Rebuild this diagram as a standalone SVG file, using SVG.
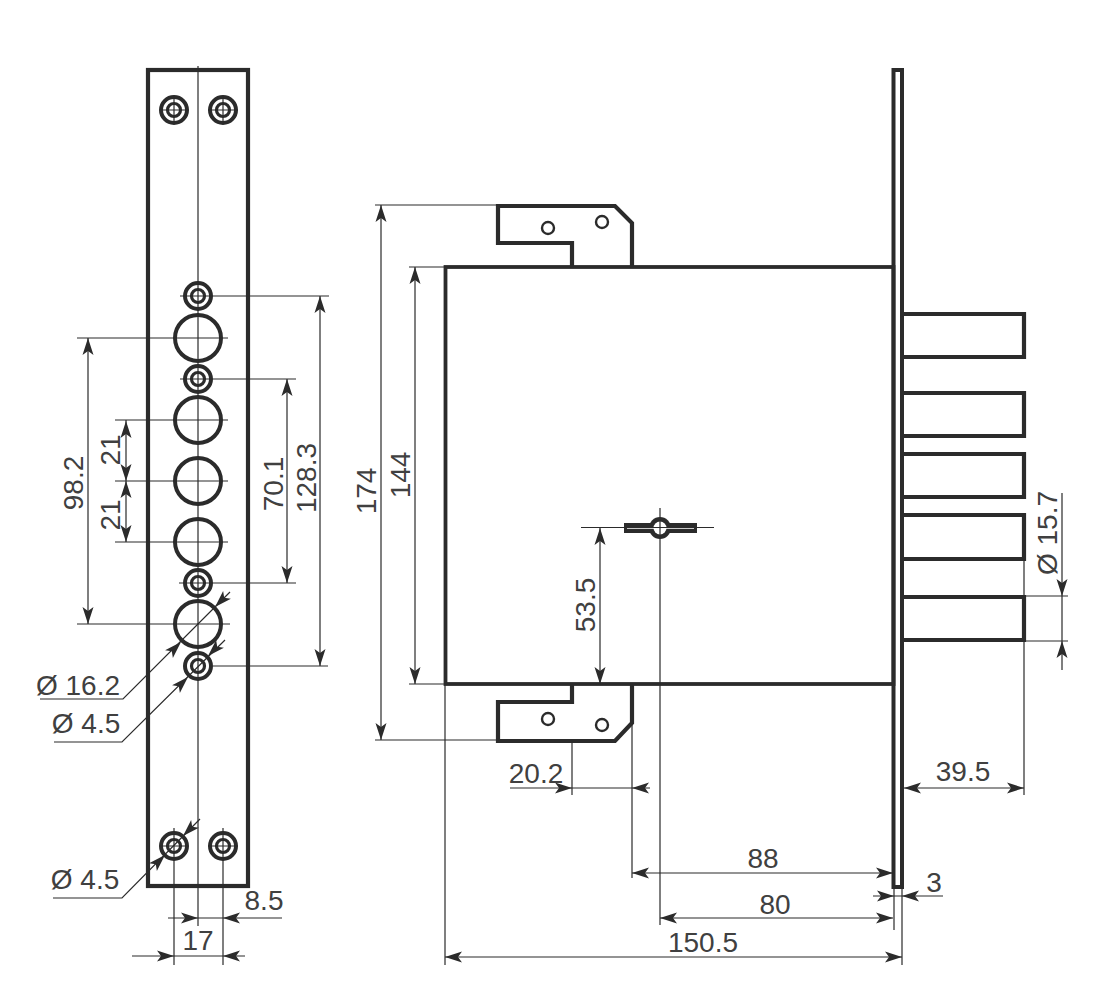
<svg xmlns="http://www.w3.org/2000/svg" xmlns:xlink="http://www.w3.org/1999/xlink" width="1094" height="999" viewBox="0 0 1094 999">
<style>
.o{fill:none;stroke:#2b2b2b;stroke-width:4.200;stroke-linejoin:miter}
.h{fill:#fff;stroke:#2b2b2b;stroke-width:2.400}
.c{fill:none;stroke:#2b2b2b;stroke-width:4}
.r{fill:none;stroke:#2b2b2b;stroke-width:3.200}
.t{fill:none;stroke:#2b2b2b;stroke-width:1.200}
.x{font-family:"Liberation Sans",Arial,sans-serif;font-size:28px;fill:#404040;text-anchor:middle}
.a{fill:#2b2b2b}
</style>
<defs>
<path id="a" class="a" d="M0,0L-17,-5.500L-13,0L-17,5.500Z"/>
<g id="s"><circle r="13" class="c"/><circle r="6.500" class="r"/></g>
</defs>
<rect width="1094" height="999" fill="#fff"/>

<g id="faceplate">
<rect class="o" x="148" y="70" width="100" height="816"/>
<circle class="c" cx="198" cy="338" r="23"/>
<circle class="c" cx="198" cy="420" r="23"/>
<circle class="c" cx="198" cy="481" r="23"/>
<circle class="c" cx="198" cy="542" r="23"/>
<circle class="c" cx="198" cy="624" r="23"/>
<use xlink:href="#s" x="174" y="110"/>
<use xlink:href="#s" x="223" y="110"/>
<use xlink:href="#s" x="198" y="296"/>
<use xlink:href="#s" x="198" y="379"/>
<use xlink:href="#s" x="198" y="583"/>
<use xlink:href="#s" x="198" y="666"/>
<use xlink:href="#s" x="174" y="846"/>
<use xlink:href="#s" x="223" y="846"/>
</g>

<g id="lock-body">
<path class="o" d="M572,267V243H498V206H615L632,223V267"/>
<circle class="h" cx="548" cy="228" r="6"/>
<circle class="h" cx="602" cy="222" r="6"/>
<path class="o" d="M572,684V702H498V741H615L632,723V684"/>
<circle class="h" cx="548" cy="719" r="6"/>
<circle class="h" cx="602" cy="725" r="6"/>
<rect class="o" x="445.500" y="267" width="448" height="417" style="stroke-width:3.800"/>
<rect class="o" x="893.500" y="70" width="8.500" height="817" style="stroke-width:4"/>
</g>

<g id="bolts">
<path class="o" d="M903,314H1024V357H903"/>
<path class="o" d="M903,393H1024V436H903"/>
<path class="o" d="M903,454H1024V497H903"/>
<path class="o" d="M903,515H1024V559H903"/>
<path class="o" d="M903,597H1024V640H903"/>
</g>

<g id="keyhole">
<rect x="624" y="523" width="73" height="10" fill="#2b2b2b"/>
<circle cx="660" cy="528" r="11" fill="#2b2b2b"/>
<circle cx="660" cy="528" r="6.500" fill="#fff"/>
<line x1="627" y1="528" x2="694" y2="528" stroke="#fff" stroke-width="1.600"/>
</g>

<g id="connectors" class="t">
<path d="M198,66V926M174,828V965M223,828V965M160,846H188M208,846H238M160,110H188M208,110H238M174,96V124M223,96V124"/>
<path d="M180,296H329M180,379H296M179,583H296M213,666H328"/>
<path d="M77,338H228M115,420H228M115,481H228M115,542H228M77,624H230"/>
<path d="M88,338V624M126,420V542M287,379V583M320,296V666"/>
<path d="M40,699H123L230,592M54,742H122L225,640M53,898H122L200,819"/>
<path d="M168,918H282M132,956H245"/>
<path d="M375,205H498M375,740H498M409,267H445M409,684H445M381,205V740M415,267V684"/>
<path d="M581,527.500H714M660,508V925M600,528V684"/>
<path d="M572,741V795M632,684V878M445,684V965M902,887V965M894,887V930M1024,559V596M1024,641V795"/>
<path d="M510,788H650M904,788H1024M632,873H893M660,918H893M445,957H902M873,896H943"/>
<path d="M1025,596H1068M1025,641H1068M1062,493V670"/>
</g>

<g id="arrowheads">
<use xlink:href="#a" transform="translate(88,338) rotate(-90)"/>
<use xlink:href="#a" transform="translate(88,624) rotate(90)"/>
<use xlink:href="#a" transform="translate(126,421) rotate(-90)"/>
<use xlink:href="#a" transform="translate(126,481) rotate(90)"/>
<use xlink:href="#a" transform="translate(126,481) rotate(-90)"/>
<use xlink:href="#a" transform="translate(126,542) rotate(90)"/>
<use xlink:href="#a" transform="translate(287,379) rotate(-90)"/>
<use xlink:href="#a" transform="translate(287,583) rotate(90)"/>
<use xlink:href="#a" transform="translate(320,296) rotate(-90)"/>
<use xlink:href="#a" transform="translate(320,666) rotate(90)"/>
<use xlink:href="#a" transform="translate(181,642) rotate(-45)"/>
<use xlink:href="#a" transform="translate(215,607) rotate(135)"/>
<use xlink:href="#a" transform="translate(188,677) rotate(-45)"/>
<use xlink:href="#a" transform="translate(208,656) rotate(135)"/>
<use xlink:href="#a" transform="translate(165,855) rotate(-45)"/>
<use xlink:href="#a" transform="translate(183,836) rotate(135)"/>
<use xlink:href="#a" transform="translate(198,918)"/>
<use xlink:href="#a" transform="translate(223,918) rotate(180)"/>
<use xlink:href="#a" transform="translate(174,956)"/>
<use xlink:href="#a" transform="translate(223,956) rotate(180)"/>
<use xlink:href="#a" transform="translate(381,205) rotate(-90)"/>
<use xlink:href="#a" transform="translate(381,740) rotate(90)"/>
<use xlink:href="#a" transform="translate(415,267) rotate(-90)"/>
<use xlink:href="#a" transform="translate(415,684) rotate(90)"/>
<use xlink:href="#a" transform="translate(600,528) rotate(-90)"/>
<use xlink:href="#a" transform="translate(600,684) rotate(90)"/>
<use xlink:href="#a" transform="translate(572,788)"/>
<use xlink:href="#a" transform="translate(632,788) rotate(180)"/>
<use xlink:href="#a" transform="translate(904,788) rotate(180)"/>
<use xlink:href="#a" transform="translate(1024,788)"/>
<use xlink:href="#a" transform="translate(632,873) rotate(180)"/>
<use xlink:href="#a" transform="translate(893,873)"/>
<use xlink:href="#a" transform="translate(660,918) rotate(180)"/>
<use xlink:href="#a" transform="translate(893,918)"/>
<use xlink:href="#a" transform="translate(445,957) rotate(180)"/>
<use xlink:href="#a" transform="translate(902,957)"/>
<use xlink:href="#a" transform="translate(894,896)"/>
<use xlink:href="#a" transform="translate(902,896) rotate(180)"/>
<use xlink:href="#a" transform="translate(1062,596) rotate(90)"/>
<use xlink:href="#a" transform="translate(1062,641) rotate(-90)"/>
</g>

<g id="labels">
<text class="x" x="78" y="695">Ø 16.2</text>
<text class="x" x="86" y="733">Ø 4.5</text>
<text class="x" x="85" y="889">Ø 4.5</text>
<text class="x" x="264" y="910">8.5</text>
<text class="x" x="198" y="950">17</text>
<text class="x" transform="translate(83,483) rotate(-90)">98.2</text>
<text class="x" transform="translate(120,450) rotate(-90)">21</text>
<text class="x" transform="translate(120,515) rotate(-90)">21</text>
<text class="x" transform="translate(283,484) rotate(-90)">70.1</text>
<text class="x" transform="translate(316,478) rotate(-90)">128.3</text>
<text class="x" transform="translate(376,491) rotate(-90)">174</text>
<text class="x" transform="translate(410,475) rotate(-90)">144</text>
<text class="x" transform="translate(595,605) rotate(-90)">53.5</text>
<text class="x" transform="translate(1057,533) rotate(-90)">Ø 15.7</text>
<text class="x" x="536" y="783">20.2</text>
<text class="x" x="963" y="781">39.5</text>
<text class="x" x="763" y="868">88</text>
<text class="x" x="775" y="914">80</text>
<text class="x" x="703" y="952">150.5</text>
<text class="x" x="934" y="892">3</text>
</g>
</svg>
